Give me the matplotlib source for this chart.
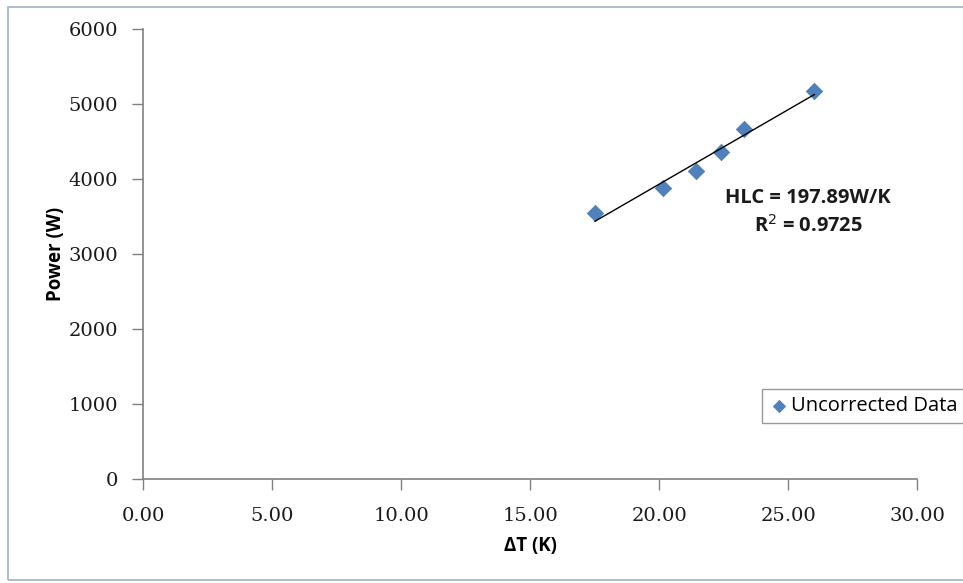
import numpy as np
import matplotlib
matplotlib.use("Agg")
import matplotlib.pyplot as plt
from matplotlib.patches import Rectangle

# data
delta_t = [17.51, 20.16, 21.41, 22.39, 23.29, 26.01]
power = [3555, 3880, 4110, 4360, 4670, 5181]
x_ticks = [0, 5, 10, 15, 20, 25, 30]
y_ticks = [0, 1000, 2000, 3000, 4000, 5000, 6000]

fig = plt.figure(figsize=(9.63, 5.83), dpi=100)
ax = fig.add_axes([143.3 / 963, 1 - 479.3 / 583, (917.3 - 143.3) / 963, (479.3 - 29.3) / 583])

# outer chart border
fig.patches.append(Rectangle((8 / 963, 3 / 583), 1.0, 1 - 10 / 583, transform=fig.transFigure,
                             fill=False, edgecolor="#9fb3c8", linewidth=1.2))

ax.scatter(delta_t, power, marker="D", s=70, color="#4f81bd", edgecolor="#4a7ab5",
           linewidth=0.5, zorder=3, label="Uncorrected Data")

# linear trendline
m, b = np.polyfit(delta_t, power, 1)
xs = np.array([min(delta_t), max(delta_t)])
ax.plot(xs, m * xs + b, color="black", linewidth=1.0, zorder=4)

lab_font = "Open Sans"
fig.text(808 / 963, 1 - 198 / 583, "HLC = 197.89W/K", fontsize=14.5, fontweight="bold",
         family=lab_font, color="#1a1a1a", ha="center", va="center")
fig.text(808 / 963, 1 - 226 / 583, "R$^{2}$ = 0.9725", fontsize=14.5, fontweight="bold",
         family=lab_font, color="#1a1a1a", ha="center", va="center")

ax.set_xlim(0, 30)
ax.set_ylim(0, 6000)
ax.set_xticks(x_ticks)
ax.set_xticklabels([f"{v:.2f}" for v in x_ticks])
ax.set_yticks(y_ticks)
ax.set_yticklabels([str(v) for v in y_ticks])

for s in ["top", "right"]:
    ax.spines[s].set_visible(False)
for s in ["left", "bottom"]:
    ax.spines[s].set_color("#808080")
    ax.spines[s].set_linewidth(1.2)
ax.tick_params(axis="both", direction="out", length=8, color="#808080", width=1,
               labelsize=14, pad=10)
ax.tick_params(axis="x", pad=12)
for lab in ax.get_xticklabels() + ax.get_yticklabels():
    lab.set_family("DejaVu Serif")
    lab.set_color("#1a1a1a")

ax.set_xlabel("ΔT (K)", fontsize=13.5, fontweight="bold", family=lab_font, labelpad=8)
ax.set_ylabel("Power (W)", fontsize=13.5, fontweight="bold", family=lab_font, labelpad=2)

leg = ax.legend(loc="upper left", bbox_to_anchor=(752 / 963, 1 - 379 / 583),
                bbox_transform=fig.transFigure, frameon=True, fancybox=False,
                prop={"family": lab_font, "size": 14.5}, handletextpad=0.1,
                handlelength=1.0, borderpad=0.35, markerscale=0.75)
leg.get_frame().set_edgecolor("#808080")
leg.get_frame().set_linewidth(1.0)

fig.savefig("out.png", dpi=100)
